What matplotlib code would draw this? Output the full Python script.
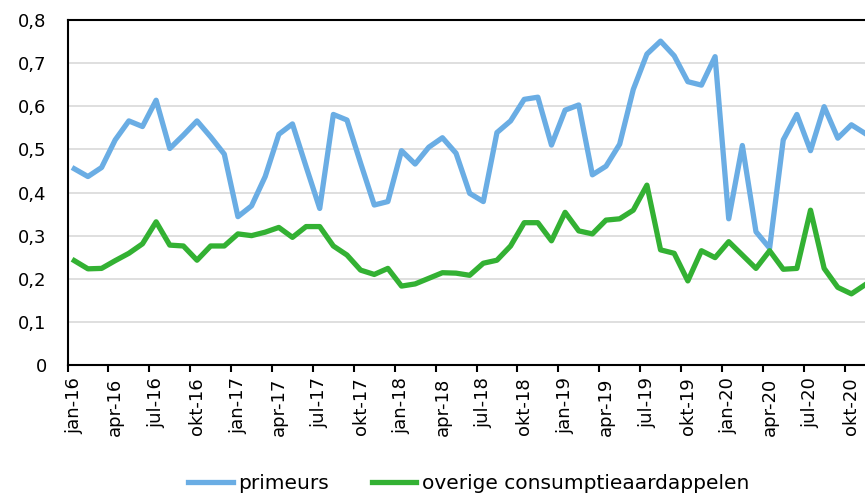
import matplotlib
matplotlib.use("Agg")
import matplotlib.pyplot as plt

# maanden jan-16 .. nov-20 (laatste punt valt op de rand)
months = ["jan", "feb", "mrt", "apr", "mei", "jun", "jul", "aug", "sep", "okt", "nov", "dec"]
labels = [f"{m}-{y}" for y in range(16, 21) for m in months][:59]

primeurs = [0.455, 0.437, 0.458, 0.522, 0.566, 0.553, 0.614, 0.502, 0.533, 0.566, 0.529, 0.489,
            0.344, 0.369, 0.437, 0.535, 0.559, 0.460, 0.363, 0.581, 0.568, 0.468, 0.371, 0.379,
            0.497, 0.466, 0.505, 0.527, 0.491, 0.398, 0.379, 0.539, 0.566, 0.616, 0.621, 0.510,
            0.591, 0.603, 0.441, 0.461, 0.512, 0.639, 0.721, 0.751, 0.717, 0.657, 0.649, 0.715,
            0.339, 0.509, 0.309, 0.271, 0.522, 0.581, 0.497, 0.599, 0.526, 0.557, 0.537]
overige = [0.242, 0.223, 0.224, 0.242, 0.259, 0.281, 0.332, 0.278, 0.276, 0.243, 0.276, 0.276,
           0.304, 0.300, 0.308, 0.319, 0.296, 0.321, 0.321, 0.276, 0.255, 0.220, 0.210, 0.224,
           0.183, 0.188, 0.201, 0.214, 0.213, 0.208, 0.236, 0.243, 0.276, 0.330, 0.330, 0.288,
           0.354, 0.311, 0.304, 0.336, 0.339, 0.359, 0.417, 0.267, 0.259, 0.195, 0.265, 0.249,
           0.286, 0.255, 0.224, 0.265, 0.222, 0.224, 0.359, 0.224, 0.180, 0.165, 0.186]

tick_every = 3
yticks = [0, 0.1, 0.2, 0.3, 0.4, 0.5, 0.6, 0.7, 0.8]
ytick_labels = ["0", "0,1", "0,2", "0,3", "0,4", "0,5", "0,6", "0,7", "0,8"]

plt.rcParams["font.family"] = ["DejaVu Sans"]
fig = plt.figure(figsize=(8.65, 4.94), dpi=100)
# plot area loopt rechts door buiten de afbeelding (uitsnede)
ax = fig.add_axes([67.5 / 865, 129 / 494, 818 / 865, 345 / 494])

x = list(range(len(labels)))
ax.plot(x, primeurs, color="#6aade4", lw=3.8, solid_joinstyle="round", label="primeurs", zorder=3)
ax.plot(x, overige, color="#33b133", lw=3.8, solid_joinstyle="round",
        label="overige consumptieaardappelen", zorder=3)

ax.set_xlim(-0.5, 59.5)
ax.set_ylim(0, 0.8)
ax.set_yticks(yticks)
ax.set_yticklabels(ytick_labels, fontsize=13)
ax.tick_params(axis="y", length=0, pad=15)
ax.grid(axis="y", color="#d9d9d9", lw=1.2)
ax.set_axisbelow(True)

# tickmarks tussen de categorieën, labels op de categorieën
ax.set_xticks([i - 0.5 for i in range(0, 58, tick_every)])
ax.set_xticklabels([])
ax.set_xticks(x[::tick_every], minor=True)
ax.set_xticklabels(labels[::tick_every], minor=True, rotation=90, fontsize=13)
ax.tick_params(axis="x", which="major", length=5, width=1.5, direction="out")
ax.tick_params(axis="x", which="minor", length=0, pad=9)

for s in ax.spines.values():
    s.set_linewidth(1.5)
    s.set_color("black")

fig.legend(loc="center", bbox_to_anchor=(0.542, 0.022), ncol=2, frameon=False, fontsize=14.5,
           handlelength=2.2, handletextpad=0.3, columnspacing=2.1)

fig.savefig("out.png", dpi=100)
